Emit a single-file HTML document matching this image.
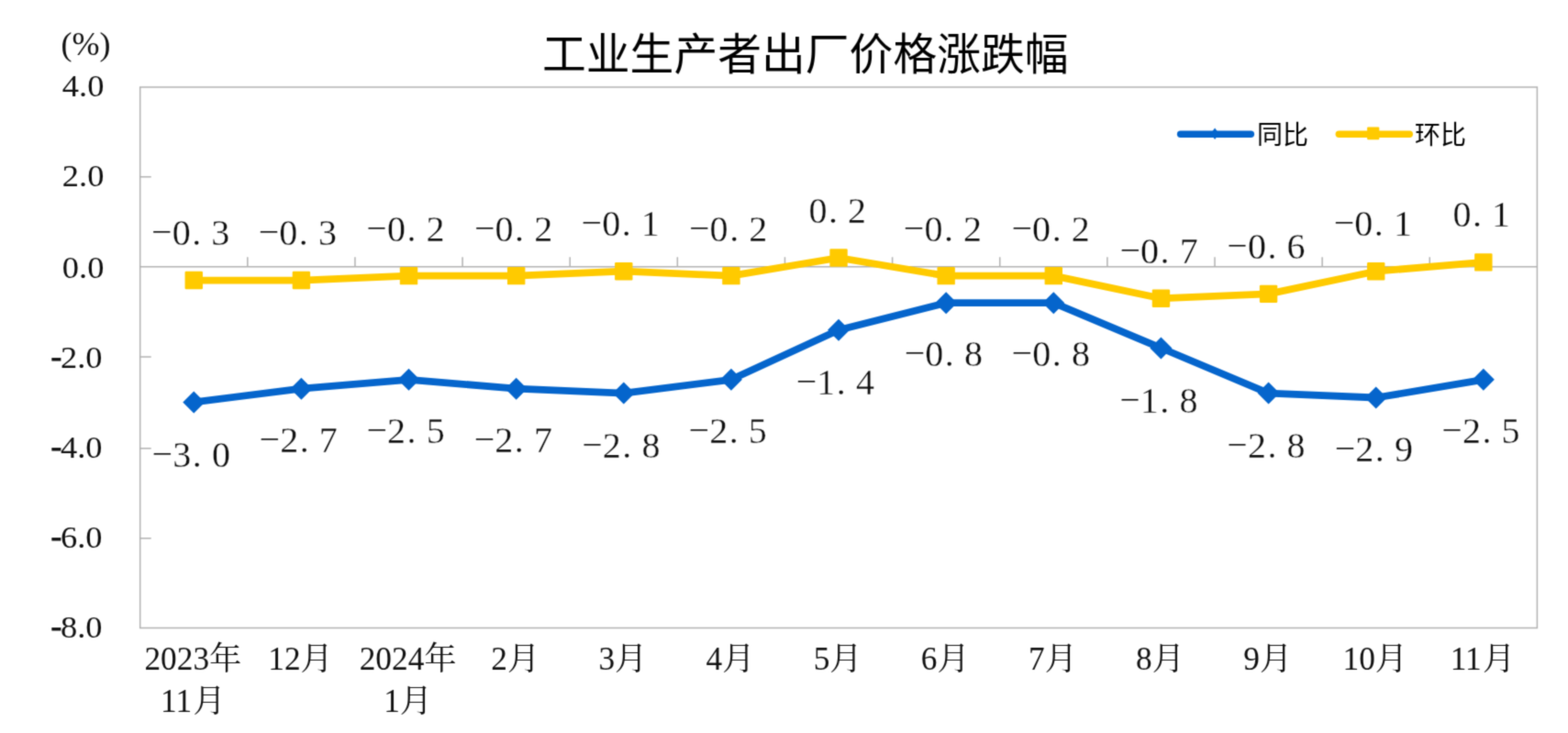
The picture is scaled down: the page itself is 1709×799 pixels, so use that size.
<!DOCTYPE html>
<html lang="zh">
<head>
<meta charset="utf-8">
<title>工业生产者出厂价格涨跌幅</title>
<style>
html,body{margin:0;padding:0;background:#fff;}
body{width:1709px;height:799px;overflow:hidden;font-family:"Liberation Serif",serif;}
svg{display:block;}
</style>
</head>
<body>
<svg width="1709" height="799" viewBox="0 0 1709 799">
<defs><filter id="soft" x="0" y="0" width="100%" height="100%" filterUnits="userSpaceOnUse" color-interpolation-filters="sRGB"><feConvolveMatrix order="3" kernelMatrix="0.0289 0.1122 0.0289 0.1122 0.4356 0.1122 0.0289 0.1122 0.0289" edgeMode="duplicate" preserveAlpha="true"/></filter></defs>
<g filter="url(#soft)">
<title>工业生产者出厂价格涨跌幅</title>
<desc>工业生产者出厂价格涨跌幅 (%)：同比、环比，2023年11月 至 2024年11月</desc>
<rect width="1709" height="799" fill="#fff"/>
<g fill="none" stroke="#b2b2b2" stroke-width="1.5">
<rect x="152.7" y="95.0" width="1522.7" height="589.5"/>
<path d="M152.7 290.8H1675.4"/>
<path d="M152.7 192.8h12M152.7 388.9h12M152.7 488.7h12M152.7 586.7h12"/>
<path d="M269.83 290.8v-10.5M386.96 290.8v-10.5M504.09 290.8v-10.5M621.22 290.8v-10.5M738.35 290.8v-10.5M855.48 290.8v-10.5M972.62 290.8v-10.5M1089.75 290.8v-10.5M1206.88 290.8v-10.5M1324.01 290.8v-10.5M1441.14 290.8v-10.5M1558.27 290.8v-10.5"/>
</g>
<polyline points="211.27,305.56 328.4,305.56 445.53,300.64 562.66,300.64 679.79,295.72 796.92,300.64 914.05,281.01 1031.18,300.64 1148.31,300.64 1265.44,325.25 1382.57,320.33 1499.7,295.72 1616.83,285.91" fill="none" stroke="#ffca00" stroke-width="7.8" stroke-linejoin="round" stroke-linecap="round"/>
<rect x="201.57" y="295.86" width="19.4" height="19.4" rx="1.2" fill="#ffca00"/>
<rect x="318.7" y="295.86" width="19.4" height="19.4" rx="1.2" fill="#ffca00"/>
<rect x="435.83" y="290.94" width="19.4" height="19.4" rx="1.2" fill="#ffca00"/>
<rect x="552.96" y="290.94" width="19.4" height="19.4" rx="1.2" fill="#ffca00"/>
<rect x="670.09" y="286.02" width="19.4" height="19.4" rx="1.2" fill="#ffca00"/>
<rect x="787.22" y="290.94" width="19.4" height="19.4" rx="1.2" fill="#ffca00"/>
<rect x="904.35" y="271.31" width="19.4" height="19.4" rx="1.2" fill="#ffca00"/>
<rect x="1021.48" y="290.94" width="19.4" height="19.4" rx="1.2" fill="#ffca00"/>
<rect x="1138.61" y="290.94" width="19.4" height="19.4" rx="1.2" fill="#ffca00"/>
<rect x="1255.74" y="315.55" width="19.4" height="19.4" rx="1.2" fill="#ffca00"/>
<rect x="1372.87" y="310.63" width="19.4" height="19.4" rx="1.2" fill="#ffca00"/>
<rect x="1490" y="286.02" width="19.4" height="19.4" rx="1.2" fill="#ffca00"/>
<rect x="1607.13" y="276.21" width="19.4" height="19.4" rx="1.2" fill="#ffca00"/>
<polyline points="211.27,438.44 328.4,423.67 445.53,413.83 562.66,423.67 679.79,428.6 796.92,413.83 914.05,359.7 1031.18,330.17 1148.31,330.17 1265.44,379.38 1382.57,428.6 1499.7,433.52 1616.83,413.83" fill="none" stroke="#0565cc" stroke-width="7.8" stroke-linejoin="round" stroke-linecap="round"/>
<path d="M211.27 426.44L223.27 438.44L211.27 450.44L199.27 438.44ZM328.4 411.67L340.4 423.67L328.4 435.67L316.4 423.67ZM445.53 401.83L457.53 413.83L445.53 425.83L433.53 413.83ZM562.66 411.67L574.66 423.67L562.66 435.67L550.66 423.67ZM679.79 416.6L691.79 428.6L679.79 440.6L667.79 428.6ZM796.92 401.83L808.92 413.83L796.92 425.83L784.92 413.83ZM914.05 347.7L926.05 359.7L914.05 371.7L902.05 359.7ZM1031.18 318.17L1043.18 330.17L1031.18 342.17L1019.18 330.17ZM1148.31 318.17L1160.31 330.17L1148.31 342.17L1136.31 330.17ZM1265.44 367.38L1277.44 379.38L1265.44 391.38L1253.44 379.38ZM1382.57 416.6L1394.57 428.6L1382.57 440.6L1370.57 428.6ZM1499.7 421.52L1511.7 433.52L1499.7 445.52L1487.7 433.52ZM1616.83 401.83L1628.83 413.83L1616.83 425.83L1604.83 413.83Z" fill="#0565cc"/>
<path d="M1286.6 146.3H1363.4" stroke="#0565cc" stroke-width="7.4" stroke-linecap="round" fill="none"/>
<path d="M1324.1 139.4l4.6 6.3l-4.6 6.3l-4.6 -6.3z" fill="#0565cc"/>
<path d="M1459.3 146.3H1536.3" stroke="#ffca00" stroke-width="7.4" stroke-linecap="round" fill="none"/>
<rect x="1490.1" y="138.5" width="13.2" height="13.8" rx="1" fill="#ffca00"/>
<g font-family="'Liberation Sans', 'Noto Sans CJK SC', sans-serif" font-size="28" fill="#000">
<text x="1370" y="157">同比</text>
<text x="1542" y="157">环比</text>
</g>
<text x="591" y="76" font-family="'Liberation Sans', 'Noto Sans CJK SC', sans-serif" font-size="47.8" fill="#000">工业生产者出厂价格涨跌幅</text>
<g font-family="'Liberation Serif', serif" font-size="36.0" fill="#111">
<text x="66.6" y="59.8">(%)</text>
</g>
<g font-family="'Liberation Serif', serif" font-size="35.3" fill="#111">
<text transform="translate(113.4 105.3) scale(1 0.93)" font-size="36.5" text-anchor="end">4.0</text>
<text transform="translate(113.4 203.2) scale(1 0.93)" font-size="36.5" text-anchor="end">2.0</text>
<text transform="translate(113.4 303.3) scale(1 0.93)" font-size="36.5" text-anchor="end">0.0</text>
<text x="55.4" y="400.1" stroke="#111" stroke-width="0.8">-</text>
<text transform="translate(111.6 401.1) scale(1 0.93)" font-size="36.5" text-anchor="end">2.0</text>
<text x="55.4" y="497.8" stroke="#111" stroke-width="0.8">-</text>
<text transform="translate(111.6 498.8) scale(1 0.93)" font-size="36.5" text-anchor="end">4.0</text>
<text x="55.4" y="595.8" stroke="#111" stroke-width="0.8">-</text>
<text transform="translate(111.6 596.8) scale(1 0.93)" font-size="36.5" text-anchor="end">6.0</text>
<text x="55.4" y="693.8" stroke="#111" stroke-width="0.8">-</text>
<text transform="translate(111.6 694.8) scale(1 0.93)" font-size="36.5" text-anchor="end">8.0</text>
</g>
<g font-family="'Liberation Serif', serif" font-size="35.3" fill="#111">
<text x="157.47" y="729.8">2023</text>
<text x="175.12" y="776">11</text>
<text x="292.25" y="729.8">12</text>
<text x="391.73" y="729.8">2024</text>
<text x="418.2" y="776">1</text>
<text x="535.33" y="729.8">2</text>
<text x="652.46" y="729.8">3</text>
<text x="769.59" y="729.8">4</text>
<text x="886.72" y="729.8">5</text>
<text x="1003.86" y="729.8">6</text>
<text x="1120.99" y="729.8">7</text>
<text x="1238.12" y="729.8">8</text>
<text x="1355.25" y="729.8">9</text>
<text x="1463.55" y="729.8">10</text>
<text x="1580.68" y="729.8">11</text>
</g>
<g font-family="'Liberation Serif', 'Noto Serif CJK SC', serif" font-size="35.3" fill="#111">
<text x="228.1" y="729.8">年</text>
<text x="210.4" y="776">月</text>
<text x="327.55" y="729.8">月</text>
<text x="462.33" y="729.8">年</text>
<text x="435.85" y="776">月</text>
<text x="552.98" y="729.8">月</text>
<text x="670.11" y="729.8">月</text>
<text x="787.24" y="729.8">月</text>
<text x="904.37" y="729.8">月</text>
<text x="1021.51" y="729.8">月</text>
<text x="1138.64" y="729.8">月</text>
<text x="1255.77" y="729.8">月</text>
<text x="1372.9" y="729.8">月</text>
<text x="1498.85" y="729.8">月</text>
<text x="1615.98" y="729.8">月</text>
</g>
<g font-family="'Liberation Serif', serif" font-size="40.0" fill="#111" text-anchor="middle" stroke="#fff" stroke-width="0.3">
<text x="176.37 197.7 214.23 240.36" y="265.6 266.6 266.6 266.6">−0.3</text>
<text x="292.97 314.3 330.83 356.96" y="265.6 266.6 266.6 266.6">−0.3</text>
<text x="410.57 431.9 448.43 474.56" y="262 263 263 263">−0.2</text>
<text x="528.17 549.5 566.03 592.16" y="262 263 263 263">−0.2</text>
<text x="644.87 666.2 682.73 708.86" y="256.3 257.3 257.3 257.3">−0.1</text>
<text x="762.27 783.6 800.13 826.26" y="262 263 263 263">−0.2</text>
<text x="891.4 907.93 934.06" y="243.4 243.4 243.4">0.2</text>
<text x="996.07 1017.4 1033.93 1060.06" y="262 263 263 263">−0.2</text>
<text x="1113.77 1135.1 1151.63 1177.76" y="262 263 263 263">−0.2</text>
<text x="1231.67 1253 1269.53 1295.66" y="286.2 287.2 287.2 287.2">−0.7</text>
<text x="1348.57 1369.9 1386.43 1412.56" y="280.9 281.9 281.9 281.9">−0.6</text>
<text x="1464.97 1486.3 1502.83 1528.96" y="255.5 256.5 256.5 256.5">−0.1</text>
<text x="1593.4 1609.93 1636.06" y="246.9 246.9 246.9">0.1</text>
<text x="176.9 198.23 214.76 240.89" y="507.6 508.6 508.6 508.6">−3.0</text>
<text x="293.8 315.13 331.66 357.79" y="492.2 493.2 493.2 493.2">−2.7</text>
<text x="410.7 432.03 448.56 474.69" y="482.3 483.3 483.3 483.3">−2.5</text>
<text x="528 549.33 565.86 591.99" y="492.2 493.2 493.2 493.2">−2.7</text>
<text x="645.5 666.83 683.36 709.49" y="497.9 498.9 498.9 498.9">−2.8</text>
<text x="761.8 783.13 799.66 825.79" y="482.3 483.3 483.3 483.3">−2.5</text>
<text x="879 900.33 916.86 942.99" y="428.55 429.55 429.55 429.55">−1.4</text>
<text x="997 1018.33 1034.86 1060.99" y="398 399 399 399">−0.8</text>
<text x="1113.9 1135.23 1151.76 1177.89" y="398 399 399 399">−0.8</text>
<text x="1231.5 1252.83 1269.36 1295.49" y="448.5 449.5 449.5 449.5">−1.8</text>
<text x="1348.6 1369.93 1386.46 1412.59" y="498.2 499.2 499.2 499.2">−2.8</text>
<text x="1466 1487.33 1503.86 1529.99" y="502.4 503.4 503.4 503.4">−2.9</text>
<text x="1582.6 1603.93 1620.46 1646.59" y="482.2 483.2 483.2 483.2">−2.5</text>
</g>
</g>
</svg>
</body>
</html>
